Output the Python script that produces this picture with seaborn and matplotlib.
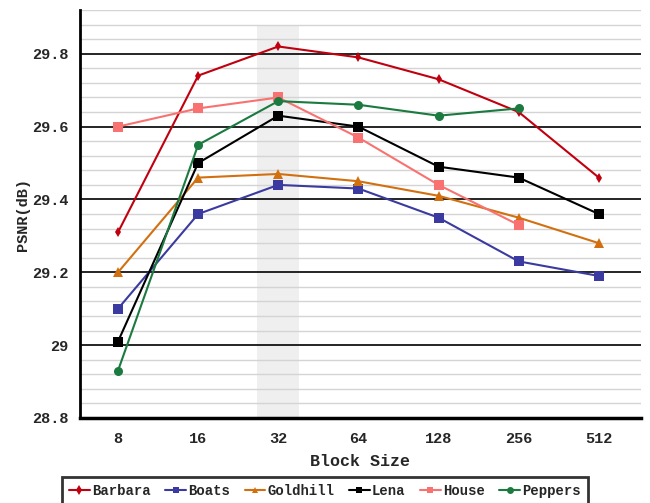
import pandas as pd
import numpy as np
import matplotlib
matplotlib.use('Agg')
import matplotlib.pyplot as plt
import seaborn as sns
from matplotlib.ticker import MultipleLocator

# Block sizes (categorical x axis)
block_sizes = ['8', '16', '32', '64', '128', '256', '512']

# PSNR values per test image (dB)
barbara = [29.31, 29.74, 29.82, 29.79, 29.73, 29.64, 29.46]
boats = [29.10, 29.36, 29.44, 29.43, 29.35, 29.23, 29.19]
goldhill = [29.20, 29.46, 29.47, 29.45, 29.41, 29.35, 29.28]
lena = [29.01, 29.50, 29.63, 29.60, 29.49, 29.46, 29.36]
house = [29.60, 29.65, 29.68, 29.57, 29.44, 29.33, np.nan]
peppers = [28.93, 29.55, 29.67, 29.66, 29.63, 29.65, np.nan]

images = ['Barbara', 'Boats', 'Goldhill', 'Lena', 'House', 'Peppers']
series = [barbara, boats, goldhill, lena, house, peppers]
colors = ['#c0000f', '#3a3aa0', '#d2700f', '#000000', '#f87272', '#1a7a40']
markers = ['d', 's', '^', 's', 's', 'o']
sizes = {'Barbara': 5.5, 'Boats': 7, 'Goldhill': 7, 'Lena': 7.5, 'House': 7.5, 'Peppers': 6.5}

# long-form table for seaborn
df = pd.DataFrame({
    'Block Size': block_sizes * len(images),
    'PSNR': [v for s in series for v in s],
    'Image': [name for name in images for _ in block_sizes],
}).dropna()

sns.set_style('white')
plt.rcParams['font.family'] = ['Liberation Mono', 'DejaVu Sans']
plt.rcParams['font.weight'] = 'bold'

fig = plt.figure(figsize=(6.5, 5.03), dpi=100)
ax = fig.add_axes([0.123, 0.169, 0.863, 0.811])

sns.lineplot(data=df, x='Block Size', y='PSNR', hue='Image', style='Image',
             hue_order=images, style_order=images,
             palette=dict(zip(images, colors)), markers=dict(zip(images, markers)),
             dashes=False, markersize=7, markeredgewidth=0, linewidth=1.5,
             sort=False, ax=ax, legend=True, zorder=3)

# per-series marker size
for line, name in zip(ax.get_lines(), images):
    line.set_markersize(sizes[name])

# highlight the 32 block size
ax.fill_between([1.74, 2.26], 28.8, 29.88, color='#efefef', zorder=0, linewidth=0)

ax.set_xlim(-0.475, 6.525)
ax.set_ylim(28.8, 29.92)
ax.yaxis.set_minor_locator(MultipleLocator(0.04))
ax.set_yticks([28.8, 29.0, 29.2, 29.4, 29.6, 29.8])
ax.set_yticklabels(['28.8', '29', '29.2', '29.4', '29.6', '29.8'])
ax.grid(axis='y', which='major', color='black', linewidth=1.2, zorder=1)
ax.grid(axis='y', which='minor', color='#d4d4d4', linewidth=1.0, zorder=1)
ax.grid(axis='x', visible=False)
ax.set_axisbelow(True)

for side in ['top', 'right']:
    ax.spines[side].set_visible(False)
ax.spines['left'].set_linewidth(2)
ax.spines['bottom'].set_linewidth(2.5)
ax.spines['left'].set_color('black')
ax.spines['bottom'].set_color('black')

ax.tick_params(axis='y', which='major', direction='inout', length=9, width=1.5, labelsize=11, pad=4)
ax.tick_params(axis='y', which='minor', length=0)
ax.tick_params(axis='x', length=0, labelsize=11, pad=10)

ax.set_xlabel('Block Size', fontsize=12, fontweight='bold', labelpad=6)
ax.set_ylabel('PSNR(dB)', fontsize=11, fontweight='bold', labelpad=1)

handles, labels = ax.get_legend_handles_labels()
ax.get_legend().remove()
for h in handles:
    h.set_markersize(5)
leg = fig.legend(handles, labels, loc='upper center', bbox_to_anchor=(0.5, 0.066),
                 ncol=6, frameon=True, fancybox=False, fontsize=10,
                 handlelength=1.5, handletextpad=0.15, columnspacing=1.05,
                 borderpad=0.5)
leg.get_frame().set_edgecolor('black')
leg.get_frame().set_linewidth(2)

fig.savefig('out.png', dpi=100)
